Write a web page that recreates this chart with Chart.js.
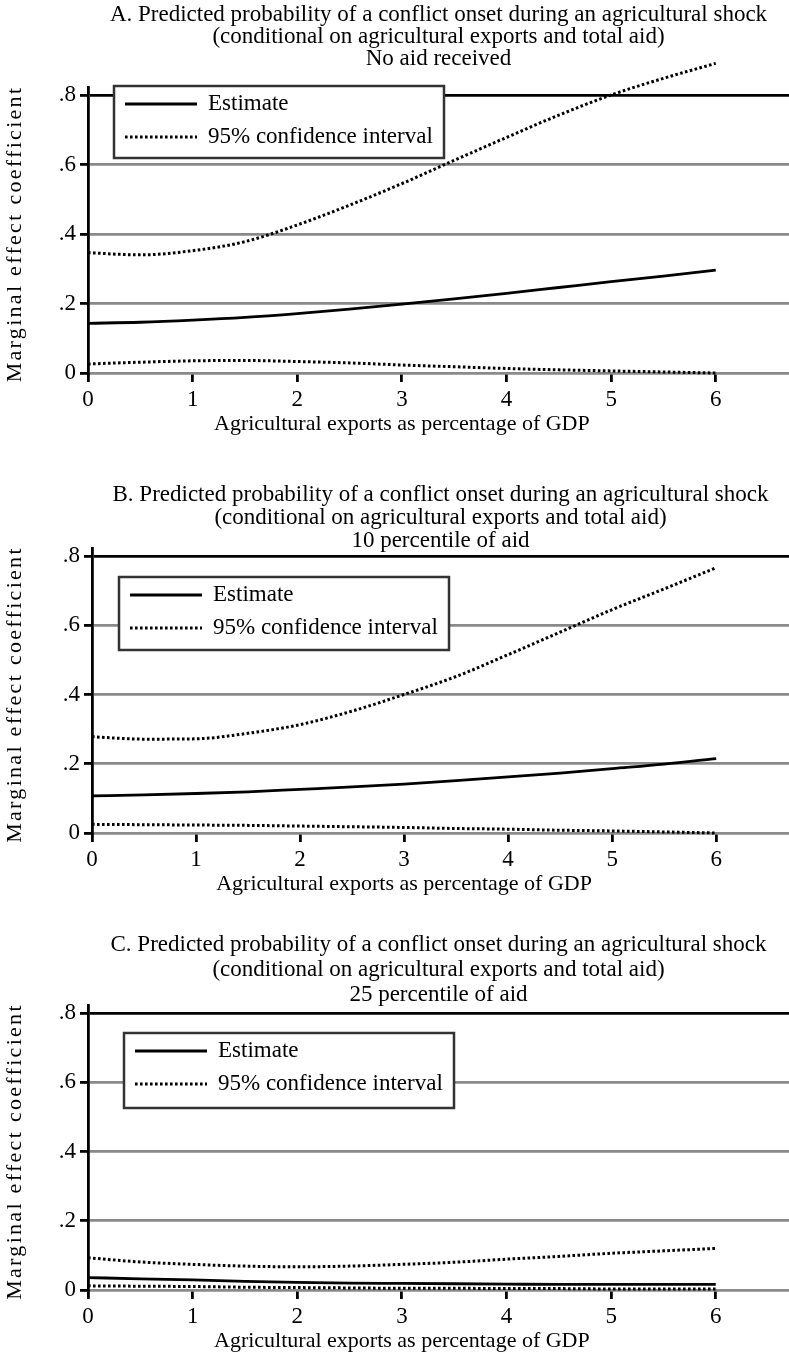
<!DOCTYPE html>
<html>
<head>
<meta charset="utf-8">
<script src="https://cdn.jsdelivr.net/npm/chart.js@4.4.1/dist/chart.umd.min.js"></script>
<style>
body { margin: 0; background: #fff; width: 789px; height: 1356px; position: relative; overflow: hidden; }
canvas { position: absolute; left: 0; }
</style>
</head>
<body>
<canvas class="chart-a" width="789" height="440" style="top:0px"></canvas>
<canvas class="chart-b" width="789" height="460" style="top:440px"></canvas>
<canvas class="chart-c" width="789" height="456" style="top:900px"></canvas>
<script>
// data
const xValues = [0, 0.5, 1, 1.5, 2, 2.5, 3, 3.5, 4, 4.5, 5, 5.5, 6];
const xTicks = [0, 1, 2, 3, 4, 5, 6];
const yTicks = [0, 0.2, 0.4, 0.6, 0.8];
const yTickLabels = ['0', '.2', '.4', '.6', '.8'];
const legendLabels = ['Estimate', '95% confidence interval'];

const estimateA = [0.143, 0.146, 0.152, 0.160, 0.171, 0.184, 0.198, 0.213, 0.229, 0.246, 0.263, 0.279, 0.296];
const upperA = [0.346, 0.340, 0.352, 0.378, 0.426, 0.483, 0.545, 0.612, 0.678, 0.742, 0.800, 0.848, 0.891];
const lowerA = [0.026, 0.031, 0.035, 0.036, 0.033, 0.029, 0.023, 0.018, 0.013, 0.009, 0.006, 0.003, 0.000];

const estimateB = [0.107, 0.110, 0.114, 0.119, 0.126, 0.133, 0.141, 0.151, 0.162, 0.173, 0.186, 0.199, 0.215];
const upperB = [0.278, 0.271, 0.272, 0.288, 0.313, 0.352, 0.400, 0.452, 0.515, 0.580, 0.645, 0.705, 0.766];
const lowerB = [0.025, 0.024, 0.023, 0.022, 0.020, 0.018, 0.016, 0.013, 0.011, 0.008, 0.006, 0.003, 0.000];

const estimateC = [0.036, 0.032, 0.029, 0.025, 0.022, 0.020, 0.019, 0.018, 0.017, 0.016, 0.016, 0.016, 0.016];
const upperC = [0.093, 0.081, 0.074, 0.069, 0.067, 0.069, 0.074, 0.080, 0.089, 0.097, 0.106, 0.113, 0.120];
const lowerC = [0.012, 0.011, 0.010, 0.008, 0.007, 0.006, 0.005, 0.005, 0.004, 0.004, 0.003, 0.003, 0.003];

const titleA = ['A. Predicted probability of a conflict onset during an agricultural shock', '(conditional on agricultural exports and total aid)', 'No aid received'];
const titleB = ['B. Predicted probability of a conflict onset during an agricultural shock', '(conditional on agricultural exports and total aid)', '10 percentile of aid'];
const titleC = ['C. Predicted probability of a conflict onset during an agricultural shock', '(conditional on agricultural exports and total aid)', '25 percentile of aid'];

const xTitle = 'Agricultural exports as percentage of GDP';
const yTitle = 'Marginal effect coefficient';

const serif = '"Liberation Serif", "Times New Roman", serif';
Chart.defaults.font.family = serif;
Chart.defaults.color = '#000';

// axis titles: x is centered under 0..6 (not the whole plot), y is letter-spaced
const axisTitlePlugin = {
    id: 'axisTitles',
    afterDraw(chart, args, opts) {
        const ctx = chart.ctx;
        const area = chart.chartArea;
        ctx.save();
        ctx.fillStyle = '#000';
        ctx.textAlign = 'center';
        ctx.textBaseline = 'middle';
        ctx.font = '22px ' + serif;
        ctx.fillText(opts.x, chart.scales.x.getPixelForValue(3), area.bottom + 51);
        ctx.translate(15, (area.top + area.bottom) / 2 + 4);
        ctx.rotate(-Math.PI / 2);
        ctx.letterSpacing = '2.3px';
        ctx.fillText(opts.y, 0, 0);
        ctx.restore();
    }
};

// boxed legend inside the plot
const boxLegendPlugin = {
    id: 'boxLegend',
    afterDraw(chart, args, opts) {
        const ctx = chart.ctx;
        const left = chart.chartArea.left + opts.dx;
        const top = chart.chartArea.top + opts.dy;
        ctx.save();
        ctx.fillStyle = '#fff';
        ctx.fillRect(left, top, 330, opts.h);
        ctx.strokeStyle = '#333';
        ctx.lineWidth = 2.5;
        ctx.strokeRect(left, top, 330, opts.h);
        legendLabels.forEach((label, i) => {
            const ds = chart.data.datasets[i];
            const y = top + 18 + i * 33;
            ctx.strokeStyle = ds.borderColor;
            ctx.lineWidth = ds.borderWidth;
            ctx.setLineDash(ds.borderDash || []);
            ctx.beginPath();
            ctx.moveTo(left + 11, y);
            ctx.lineTo(left + 83, y);
            ctx.stroke();
            ctx.setLineDash([]);
            ctx.fillStyle = '#000';
            ctx.font = '23px ' + serif;
            ctx.textBaseline = 'middle';
            ctx.fillText(label, left + 94, y);
        });
        ctx.restore();
    }
};

function makeLine(values, dotted) {
    return {
        data: xValues.map((x, i) => ({ x: x, y: values[i] })),
        borderColor: '#000',
        borderWidth: dotted ? 3 : 2.8,
        borderDash: dotted ? [2.6, 2.4] : [],
        pointRadius: 0,
        cubicInterpolationMode: 'monotone',
        clip: false
    };
}

function createChart(canvas, titleLines, est, up, low, layout) {
    new Chart(canvas, {
        type: 'line',
        data: {
            datasets: [
                Object.assign(makeLine(est, false), { label: legendLabels[0] }),
                Object.assign(makeLine(up, true), { label: legendLabels[1] }),
                Object.assign(makeLine(low, true), { label: legendLabels[1] })
            ]
        },
        plugins: [axisTitlePlugin, boxLegendPlugin],
        options: {
            responsive: false,
            animation: false,
            layout: { padding: 0 },
            plugins: {
                legend: { display: false },
                tooltip: { enabled: false },
                title: {
                    display: true,
                    text: titleLines,
                    fullSize: false,
                    font: { size: 23, weight: 'normal', lineHeight: layout.lineHeight + 'px' },
                    padding: { top: layout.titleTop, bottom: layout.titleBottom }
                },
                axisTitles: { x: xTitle, y: yTitle },
                boxLegend: { dx: layout.legendDx, dy: layout.legendDy, h: layout.legendH }
            },
            scales: {
                x: {
                    type: 'linear',
                    min: 0,
                    max: 6.7,
                    afterFit: scale => { scale.height = layout.xHeight; },
                    afterBuildTicks: scale => { scale.ticks = xTicks.map(v => ({ value: v })); },
                    ticks: { font: { size: 23 }, padding: 4, maxRotation: 0 },
                    grid: { drawOnChartArea: false, drawTicks: true, tickLength: 9, tickColor: '#000', lineWidth: 2.8 },
                    border: { display: false }
                },
                y: {
                    min: 0,
                    max: 0.823,
                    afterFit: scale => { scale.width = layout.yWidth; },
                    afterBuildTicks: scale => { scale.ticks = yTicks.map(v => ({ value: v })); },
                    ticks: { font: { size: 23 }, padding: 4, callback: (v, i) => yTickLabels[i] },
                    grid: {
                        color: ctx => (ctx.tick && ctx.tick.value === 0.8) ? '#000' : '#8a8a8a',
                        lineWidth: 2.8,
                        tickColor: '#000',
                        tickLength: 8
                    },
                    border: { display: true, color: '#000', width: 2.8 }
                }
            }
        }
    });
}

createChart(document.querySelector('.chart-a'), titleA, estimateA, upperA, lowerA,
    { lineHeight: 22, titleTop: 4, titleBottom: 17, xHeight: 67, yWidth: 88, legendDx: 26, legendDy: -1, legendH: 72 });
createChart(document.querySelector('.chart-b'), titleB, estimateB, upperB, lowerB,
    { lineHeight: 23, titleTop: 43.5, titleBottom: -4.5, xHeight: 67, yWidth: 92, legendDx: 27, legendDy: 29, legendH: 73 });
createChart(document.querySelector('.chart-c'), titleC, estimateC, upperC, lowerC,
    { lineHeight: 25, titleTop: 32.5, titleBottom: -2.5, xHeight: 66, yWidth: 88, legendDx: 36, legendDy: 28, legendH: 75 });
</script>
</body>
</html>
